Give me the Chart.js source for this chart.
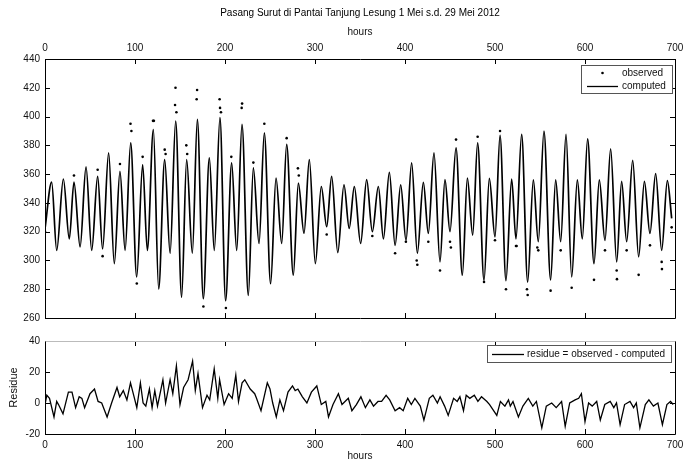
<!DOCTYPE html>
<html>
<head>
<meta charset="utf-8">
<script src="https://cdn.jsdelivr.net/npm/chart.js@4.4.0/dist/chart.umd.min.js"></script>
<style>
  body { margin: 0; background: #fff; }
  #wrap { position: relative; width: 684px; height: 462px; }
  #tide-box { position: absolute; left: 0; top: 0; width: 684px; height: 330px; }
  #residue-box { position: absolute; left: 0; top: 330px; width: 684px; height: 132px; }
</style>
</head>
<body>
<div id="wrap">
  <div id="tide-box"><canvas id="tide-chart"></canvas></div>
  <div id="residue-box"><canvas id="residue-chart"></canvas></div>
</div>
<script>
// axis ticks
const hourTicks = [0, 100, 200, 300, 400, 500, 600, 700];
const levelTicks = [260, 280, 300, 320, 340, 360, 380, 400, 420, 440];
const residueTicks = [-20, 0, 20, 40];

// computed tide: high and low waters (hour, cm)
const tideHours = [
  0, 7.4, 13, 20.4, 27, 32.2, 39, 45.6, 51.9, 58.5, 64, 70.7, 77, 83.3, 89, 95.2,
  101.9, 108.5, 113.7, 120.4, 126.3, 133, 139, 145.2, 151.8, 157.4, 163.7, 169.3,
  175.9, 182.6, 188.1, 194.4, 200.7, 207.4, 213, 218.9, 225.9, 231.5, 237.8, 243.7,
  250.7, 256.7, 263, 268.5, 275.9, 281.5, 287.8, 293.7, 300.4, 307, 313, 318.5,
  325.3, 332.2, 338, 343.7, 350.7, 357.4, 363.7, 370.4, 376, 382.6, 389, 395.2,
  401.1, 407.4, 413.7, 420.4, 425.9, 432.2, 438.9, 444.4, 450, 456.7, 463.7, 469.3,
  475.2, 480.7, 487.8, 493.7, 500, 505.6, 512.2, 518.5, 523.3, 529.6, 536.3, 542.6,
  548.1, 554.4, 561.8, 567.4, 573, 578.9, 585.2, 591.5, 597, 602.9, 610, 615.9,
  622.2, 628.5, 635.2, 640.7, 646.3, 653, 659.6, 666, 672.2, 678.5, 685.2, 691.5, 696.3
];
const tideComputed = [
  322, 354.5, 307, 356.6, 315, 354.5, 309.5, 365, 307, 358.4, 308, 374.7, 297.8, 362, 307, 381.7,
  288.5, 366.6, 307, 391, 280.3, 370, 305, 396.9, 274.5, 370, 305, 398,
  273.4, 371.3, 307, 399.2, 272, 367.8, 307, 394.5, 275.7, 364.3, 311.8, 388.7,
  283.8, 357.3, 311.8, 380.6, 289.7, 353.8, 318.8, 370, 297.8, 351.4, 323.4, 358.4,
  305.5, 352.6, 322.3, 351.4, 311.8, 356.1, 320, 351.4, 315, 361.2, 310.5, 352.6,
  314, 367.8, 305, 354.2, 318.8, 374.7, 299, 356.1, 320, 378.2, 289.7, 357.3,
  317.6, 381.7, 286, 357, 316.4, 386.9, 286, 356.6, 315, 387.6, 285, 356,
  313, 389.9, 286.5, 356, 313, 387.6, 288.5, 356, 315, 384.5, 297.8, 356,
  314, 377.5, 299, 355, 313, 369.6, 302.5, 355, 318.8, 360.3, 307, 355.5, 329.3
];

// observed readings standing off the computed curve
const observedHours = [
  0, 32.2, 58.5, 64, 83.3, 95, 96, 102, 108.5, 120, 121, 133, 134, 144.5, 145, 146,
  157, 158, 168.5, 169, 176, 194, 194.5, 195.5, 201, 207, 218.5, 219, 231.5, 243.7,
  268.5, 281, 282, 313, 363.7, 389, 401, 413, 413.7, 425.9, 438.9, 450, 451, 456.7,
  480.7, 487.8, 500, 505.6, 512.2, 523.3, 524, 535.5, 536.3, 547, 548.1, 561.8, 573,
  585.2, 610, 622.2, 635.2, 635.5, 646.3, 659.6, 672.2, 685.2, 685.5, 696.3
];
const observedLevels = [
  320, 359, 363, 303, 367, 395, 390, 284, 372, 397, 397, 377, 374, 408, 420, 403,
  380, 374, 412, 418.5, 268, 412, 406, 403, 267, 372, 406, 409, 368, 395,
  385, 364, 359, 318, 317, 305, 313, 300, 297, 313, 293, 313, 309, 384,
  386, 285, 314, 390, 280, 310, 310, 280, 276, 309, 307, 279, 307,
  281, 286.5, 307, 293, 287, 307, 290, 310.5, 299, 294, 323
];

// residue = observed - computed
const residueHours = [
  0, 2, 5, 10, 13, 15, 20, 26, 30, 34, 38, 41, 44, 50, 55, 59, 63, 69, 74, 80, 83, 87,
  91, 95, 99, 102, 106, 109, 112, 116, 119, 122, 125, 131, 134, 139, 142, 146, 150, 154,
  159, 164, 167, 170, 175, 180, 183, 188, 192, 194, 199, 204, 208, 212, 215, 219, 222,
  228, 233, 235, 240, 247, 250, 253, 257, 261, 265, 270, 275, 278, 281, 286, 291, 296,
  302, 307, 312, 315, 320, 326, 330, 337, 341, 346, 351, 356, 361, 365, 370, 374, 379,
  383, 389, 394, 398, 403, 407, 411, 417, 421, 427, 431, 436, 439, 444, 448, 454, 458,
  461, 465, 468, 472, 477, 481, 485, 491, 494, 502, 506, 511, 515, 517, 520, 526, 531,
  537, 542, 546, 552, 557, 563, 568, 574, 578, 583, 589, 593, 596, 600, 604, 608, 613,
  617, 622, 628, 632, 635, 639, 644, 650, 654, 657, 661, 667, 671, 676, 681, 686, 691,
  695, 698
];
const residueValues = [
  -1, 5, 3, -9, 1, -1, -7, 7, 7, -3, 4, 3, -3, 6, 9, 1, 0, -9, 0, 10, 4, 8,
  2, 13, 4, -3, 13, 0, -2, 9, -3, 8, -2, 15, 0, 15, 6, 24, -1, 10,
  15, 27, 8, 19, -3, 5, 2, 22, 3, 15, -1, 6, 3, 18, 1, 13, 15,
  9, 6, 3, -5, 13, 9, 0, -9, 2, -5, 7, 11, 8, 9, 4, 0, 7,
  11, -1, 1, -9, -1, 6, -1, 3, -5, -1, 4, -3, 2, -2, 1, 1, 5,
  2, -5, -3, -5, 3, -1, 3, -2, -11, 3, 5, 0, 4, -2, -8, 3, 1,
  4, -5, 5, 3, 5, 1, 4, 1, -1, -8, 1, -2, 2, -2, 1, -9, -2,
  3, -2, 1, -16, -2, 0, -3, 1, -15, 0, 2, 3, 6, -12, 0, -2, 1,
  -11, -1, 1, -3, 0, -14, -1, 1, -3, 0, -16, -1, 2, -2, 0, -14, -1,
  1, -1
];

const FONT = "'Liberation Sans', Arial, Helvetica, sans-serif";
const INK = '#111';
const tickFont = { family: FONT, size: 10 };

function pairs(xs, ys) {
  return xs.map((x, i) => ({ x: x, y: ys[i] }));
}

// box around the axes with inward tick marks on all four sides
const boxFrame = {
  id: 'boxFrame',
  afterDatasetsDraw(chart, args, opts) {
    const { ctx, chartArea: a, scales } = chart;
    const len = 5;
    ctx.save();
    ctx.lineWidth = 1;
    ctx.strokeStyle = '#000';
    ctx.beginPath();
    scales.x.ticks.forEach(t => {
      const px = Math.round(scales.x.getPixelForValue(t.value)) + 0.5;
      ctx.moveTo(px, a.top); ctx.lineTo(px, a.top + len);
      ctx.moveTo(px, a.bottom); ctx.lineTo(px, a.bottom - len);
    });
    scales.y.ticks.forEach(t => {
      const py = Math.round(scales.y.getPixelForValue(t.value)) + 0.5;
      ctx.moveTo(a.left, py); ctx.lineTo(a.left + len, py);
      ctx.moveTo(a.right, py); ctx.lineTo(a.right - len, py);
    });
    ctx.stroke();

    const l = Math.round(a.left) + 0.5, r = Math.round(a.right) + 0.5;
    const t = Math.round(a.top) + 0.5, b = Math.round(a.bottom) + 0.5;
    ctx.beginPath();
    ctx.moveTo(l, t); ctx.lineTo(l, b); ctx.lineTo(r, b); ctx.lineTo(r, t);
    ctx.stroke();
    ctx.strokeStyle = opts.topColor || '#000';
    ctx.beginPath();
    ctx.moveTo(l, t); ctx.lineTo(r, t);
    ctx.stroke();
    ctx.restore();
  }
};

// boxed legend in the upper right corner
const boxLegend = {
  id: 'boxLegend',
  afterDraw(chart, args, opts) {
    if (!opts.items) return;
    const { ctx } = chart;
    const bx = opts.box;
    ctx.save();
    ctx.fillStyle = '#fff';
    ctx.fillRect(bx[0], bx[1], bx[2], bx[3]);
    ctx.strokeStyle = '#555';
    ctx.lineWidth = 1;
    ctx.strokeRect(bx[0] + 0.5, bx[1] + 0.5, bx[2], bx[3]);
    ctx.font = '10px ' + FONT;
    ctx.textBaseline = 'middle';
    ctx.textAlign = 'left';
    opts.items.forEach(it => {
      ctx.strokeStyle = '#000';
      ctx.fillStyle = '#000';
      if (it.kind === 'dot') {
        ctx.beginPath();
        ctx.arc(it.sx + (it.sw / 2), it.y, 1.3, 0, Math.PI * 2);
        ctx.fill();
      } else {
        ctx.lineWidth = 1.3;
        ctx.beginPath();
        ctx.moveTo(it.sx, it.y + 0.5);
        ctx.lineTo(it.sx + it.sw, it.y + 0.5);
        ctx.stroke();
      }
      ctx.fillStyle = INK;
      ctx.fillText(it.text, it.tx, it.y);
    });
    ctx.restore();
  }
};

Chart.register(boxFrame, boxLegend);

function fixedTicks(list) {
  return scale => { scale.ticks = list.map(v => ({ value: v })); };
}

new Chart(document.getElementById('tide-chart'), {
  type: 'scatter',
  data: {
    datasets: [
      {
        label: 'computed',
        data: pairs(tideHours, tideComputed),
        showLine: true,
        cubicInterpolationMode: 'monotone',
        borderColor: '#000',
        borderWidth: 1.7,
        pointRadius: 0,
        order: 2
      },
      {
        label: 'observed',
        data: pairs(observedHours, observedLevels),
        showLine: false,
        pointRadius: 1.3,
        pointBorderWidth: 0,
        backgroundColor: '#000',
        order: 1
      }
    ]
  },
  options: {
    responsive: true,
    maintainAspectRatio: false,
    animation: false,
    layout: { padding: { left: 0, right: 9, top: 0, bottom: 12 } },
    plugins: {
      legend: { display: false },
      tooltip: { enabled: false },
      title: {
        display: true,
        fullSize: false,
        text: 'Pasang Surut di Pantai Tanjung Lesung 1 Mei s.d. 29 Mei 2012',
        color: '#000',
        font: { family: FONT, size: 10, weight: 'normal' },
        padding: { top: 7, bottom: 4 }
      },
      boxFrame: { topColor: '#000' },
      boxLegend: {
        box: [581, 65, 91, 28],
        items: [
          { kind: 'dot', sx: 587, sw: 31, y: 73, text: 'observed', tx: 622 },
          { kind: 'line', sx: 587, sw: 31, y: 86, text: 'computed', tx: 622 }
        ]
      }
    },
    scales: {
      x: {
        type: 'linear',
        position: 'top',
        min: 0,
        max: 700,
        afterBuildTicks: fixedTicks(hourTicks),
        grid: { display: false, drawTicks: false },
        border: { display: false },
        ticks: { font: tickFont, color: INK, padding: 5, maxRotation: 0, autoSkip: false },
        title: { display: true, text: 'hours', color: INK, font: tickFont, padding: { top: 3, bottom: 2 } },
        afterFit: s => { s.height = 36; s.paddingLeft = 0; s.paddingRight = 0; }
      },
      y: {
        min: 260,
        max: 440,
        afterBuildTicks: fixedTicks(levelTicks),
        grid: { display: false, drawTicks: false },
        border: { display: false },
        ticks: { font: tickFont, color: INK, padding: 5 },
        afterFit: s => { s.width = 45; }
      }
    }
  }
});

new Chart(document.getElementById('residue-chart'), {
  type: 'scatter',
  data: {
    datasets: [{
      label: 'residue = observed - computed',
      data: pairs(residueHours, residueValues),
      showLine: true,
      tension: 0,
      borderColor: '#000',
      borderWidth: 1.3,
      pointRadius: 0
    }]
  },
  options: {
    responsive: true,
    maintainAspectRatio: false,
    animation: false,
    layout: { padding: { left: 0, right: 9, top: 11, bottom: 0 } },
    plugins: {
      legend: { display: false },
      tooltip: { enabled: false },
      boxFrame: { topColor: '#bbb' },
      boxLegend: {
        box: [487, 15, 184, 17],
        items: [
          { kind: 'line', sx: 492, sw: 32, y: 24, text: 'residue = observed - computed', tx: 527 }
        ]
      }
    },
    scales: {
      x: {
        type: 'linear',
        position: 'bottom',
        min: 0,
        max: 700,
        afterBuildTicks: fixedTicks(hourTicks),
        grid: { display: false, drawTicks: false },
        border: { display: false },
        ticks: { font: tickFont, color: INK, padding: 5, maxRotation: 0, autoSkip: false },
        title: { display: true, text: 'hours', color: INK, font: tickFont, padding: { top: 0, bottom: 0 } },
        afterFit: s => { s.height = 28; s.paddingLeft = 0; s.paddingRight = 0; }
      },
      y: {
        min: -20,
        max: 40,
        afterBuildTicks: fixedTicks(residueTicks),
        grid: { display: false, drawTicks: false },
        border: { display: false },
        ticks: { font: tickFont, color: INK, padding: 5 },
        title: { display: true, text: 'Residue', color: INK, font: { family: FONT, size: 11 }, padding: { top: 7, bottom: 0 } },
        afterFit: s => { s.width = 45; }
      }
    }
  }
});
</script>
</body>
</html>
